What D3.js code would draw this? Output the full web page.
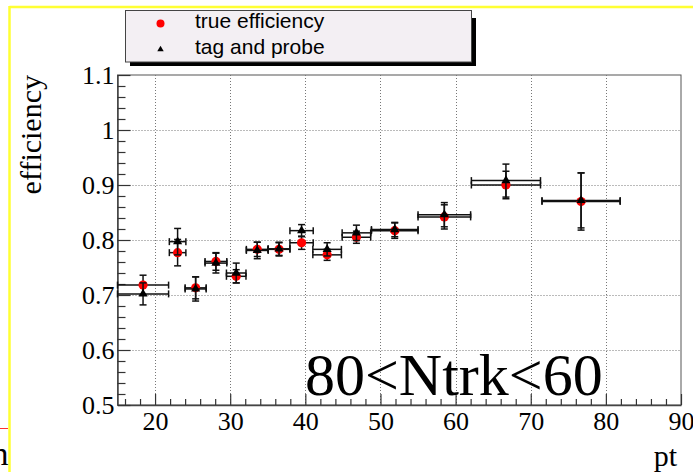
<!DOCTYPE html>
<html>
<head>
<meta charset="utf-8">
<script src="https://cdn.jsdelivr.net/npm/d3@7"></script>
<style>
  html, body { margin: 0; padding: 0; background: #fff; }
  svg { display: block; }
</style>
</head>
<body>
<svg id="chart" width="693" height="472"></svg>
<script>
// transverse momentum bins: centre and half width
const pt    = [18.4, 23.0, 25.4, 28.1, 30.8, 33.6, 36.5, 39.5, 42.9, 46.8, 51.9, 58.5, 66.7, 76.7];
const ptErr = [3.4, 1.1, 1.4, 1.45, 1.3, 1.45, 1.45, 1.55, 1.9, 1.9, 3.1, 3.5, 4.6, 5.2];

// efficiency from truth matching
const trueEff = [0.718, 0.777, 0.713, 0.761, 0.734, 0.783, 0.783, 0.795, 0.773, 0.805, 0.817, 0.842, 0.900, 0.870];
const trueErr = [0.018, 0.024, 0.020, 0.016, 0.012, 0.013, 0.012, 0.012, 0.010, 0.011, 0.014, 0.022, 0.025, 0.052];

// efficiency from tag and probe
const tagEff = [0.702, 0.797, 0.711, 0.758, 0.740, 0.781, 0.784, 0.817, 0.783, 0.813, 0.819, 0.846, 0.908, 0.872];
const tagErr = [0.020, 0.024, 0.022, 0.018, 0.018, 0.015, 0.012, 0.011, 0.012, 0.014, 0.013, 0.022, 0.030, 0.050];

// axis ticks and labels
const xTicks = [20, 30, 40, 50, 60, 70, 80, 90];
const xTickLabels = ["20", "30", "40", "50", "60", "70", "80", "90"];
const yTicks = [0.5, 0.6, 0.7, 0.8, 0.9, 1.0, 1.1];
const yTickLabels = ["0.5", "0.6", "0.7", "0.8", "0.9", "1", "1.1"];
const xGrid = [20, 30, 40, 50, 60, 70, 80];
const yGrid = [0.6, 0.7, 0.8, 0.9, 1.0];

const legendLabels = ["true efficiency", "tag and probe"];
const panelLabel = "80<Ntrk<60";

const svg = d3.select("#chart");
const serif = "'Liberation Serif', 'Times New Roman', serif";
const sans = "'Liberation Sans', Arial, sans-serif";

const x = d3.scaleLinear().domain([15, 90]).range([117.5, 681]);
const y = d3.scaleLinear().domain([0.5, 1.1]).range([405, 75]);

// canvas frame (top and left edges)
svg.append("line").attr("x1", 9.5).attr("x2", 693).attr("y1", 7).attr("y2", 7)
  .attr("stroke", "#ffff33").attr("stroke-width", 2.5);
svg.append("line").attr("x1", 9.5).attr("x2", 9.5).attr("y1", 6).attr("y2", 472)
  .attr("stroke", "#ffff33").attr("stroke-width", 2.5);
svg.append("line").attr("x1", 0).attr("x2", 8).attr("y1", 428.5).attr("y2", 428.5)
  .attr("stroke", "#ff3030").attr("stroke-width", 1);
svg.append("text").attr("x", 8.5).attr("y", 465).attr("text-anchor", "end")
  .attr("font-family", serif).attr("font-size", 34).attr("fill", "#000").text("n");

// plot frame
svg.append("rect")
  .attr("x", x(15)).attr("y", y(1.1))
  .attr("width", x(90) - x(15)).attr("height", y(0.5) - y(1.1))
  .attr("fill", "#fff").attr("stroke", "#555").attr("stroke-width", 1);

// dotted grid
const grid = svg.append("g").attr("stroke", "#777").attr("stroke-width", 1)
  .attr("stroke-dasharray", "1,2");
grid.selectAll("line.gx").data(xGrid).join("line").attr("class", "gx")
  .attr("x1", d => Math.round(x(d)) + 0.5).attr("x2", d => Math.round(x(d)) + 0.5)
  .attr("y1", y(1.1)).attr("y2", y(0.5));
grid.selectAll("line.gy").data(yGrid).join("line").attr("class", "gy")
  .attr("y1", d => Math.round(y(d)) + 0.5).attr("y2", d => Math.round(y(d)) + 0.5)
  .attr("x1", x(15)).attr("x2", x(90));

// axes: ticks point into the plot
const xMinor = d3.range(16, 90, 2).filter(v => v % 10 !== 0);
const yMinor = d3.range(0.52, 1.1, 0.02).filter(v => Math.abs(v * 10 - Math.round(v * 10)) > 1e-6);

const xAxis = svg.append("g").attr("transform", `translate(0,${y(0.5)})`)
  .call(d3.axisBottom(x).tickValues(xTicks).tickSizeInner(-11).tickSizeOuter(0)
    .tickFormat((d, i) => xTickLabels[i]));
xAxis.call(g => g.selectAll("text").attr("y", 7).attr("dy", "0.71em"));
svg.append("g").attr("transform", `translate(0,${y(0.5)})`)
  .call(d3.axisBottom(x).tickValues(xMinor).tickSizeInner(-6).tickSizeOuter(0).tickFormat(""))
  .call(g => g.select(".domain").remove());

const yAxis = svg.append("g").attr("transform", `translate(${x(15)},0)`)
  .call(d3.axisLeft(y).tickValues(yTicks).tickSizeInner(-13).tickSizeOuter(0)
    .tickFormat((d, i) => yTickLabels[i]));
yAxis.call(g => g.selectAll("text").attr("x", -3).attr("dy", "0.34em"));
svg.append("g").attr("transform", `translate(${x(15)},0)`)
  .call(d3.axisLeft(y).tickValues(yMinor).tickSizeInner(-8).tickSizeOuter(0).tickFormat(""))
  .call(g => g.select(".domain").remove());

svg.selectAll(".tick line").attr("stroke", "#333").attr("stroke-width", 1.2);
svg.selectAll(".domain").attr("stroke", "#444").attr("stroke-width", 1.5);
svg.selectAll(".tick text").attr("font-family", serif).attr("font-size", 26).attr("fill", "#000");

// axis titles
svg.append("text").attr("transform", "translate(40.5,75) rotate(-90)")
  .attr("text-anchor", "end").attr("font-family", serif).attr("font-size", 30)
  .attr("fill", "#000").text("efficiency");
svg.append("text").attr("x", 677).attr("y", 466).attr("text-anchor", "end")
  .attr("font-family", serif).attr("font-size", 30).attr("fill", "#000").text("pt");

// error bars with end caps
function drawErrors(eff, err) {
  const g = svg.append("g").attr("stroke", "#111").attr("stroke-width", 1.5).attr("fill", "none");
  pt.forEach((p, i) => {
    const cx = x(p), cy = y(eff[i]);
    const xl = x(p - ptErr[i]), xr = x(p + ptErr[i]);
    const yt = y(eff[i] + err[i]), yb = y(eff[i] - err[i]);
    g.append("line").attr("x1", xl).attr("x2", xr).attr("y1", cy).attr("y2", cy);
    g.append("line").attr("x1", xl).attr("x2", xl).attr("y1", cy - 3.5).attr("y2", cy + 3.5);
    g.append("line").attr("x1", xr).attr("x2", xr).attr("y1", cy - 3.5).attr("y2", cy + 3.5);
    g.append("line").attr("x1", cx).attr("x2", cx).attr("y1", yt).attr("y2", yb);
    g.append("line").attr("x1", cx - 3.5).attr("x2", cx + 3.5).attr("y1", yt).attr("y2", yt);
    g.append("line").attr("x1", cx - 3.5).attr("x2", cx + 3.5).attr("y1", yb).attr("y2", yb);
  });
}

const tri = d3.symbol().type(d3.symbolTriangle);

drawErrors(trueEff, trueErr);
svg.append("g").selectAll("circle").data(trueEff).join("circle")
  .attr("cx", (d, i) => x(pt[i])).attr("cy", d => y(d)).attr("r", 4.6).attr("fill", "#ff0000");

drawErrors(tagEff, tagErr);
svg.append("g").selectAll("path").data(tagEff).join("path")
  .attr("transform", (d, i) => `translate(${x(pt[i])},${y(d)})`)
  .attr("d", tri.size(36)()).attr("fill", "#000");

// panel label
svg.append("text").attr("x", 305).attr("y", 395)
  .attr("font-family", serif).attr("font-size", 60).attr("fill", "#000").text(panelLabel);

// legend box with drop shadow
const lg = svg.append("g");
lg.append("rect").attr("x", 130).attr("y", 18).attr("width", 346).attr("height", 48).attr("fill", "#000");
lg.append("rect").attr("x", 125.5).attr("y", 10.5).attr("width", 346).attr("height", 51.5)
  .attr("fill", "#f3eff3").attr("stroke", "#444").attr("stroke-width", 1);
lg.append("circle").attr("cx", 160.5).attr("cy", 23.5).attr("r", 4).attr("fill", "#ff0000");
lg.append("path").attr("transform", "translate(160.5,49.5)").attr("d", tri.size(18)()).attr("fill", "#000");
lg.selectAll("text").data(legendLabels).join("text")
  .attr("x", 195).attr("y", (d, i) => 28 + i * 25.5)
  .attr("font-family", sans).attr("font-size", 21).attr("fill", "#000").text(d => d);
</script>
</body>
</html>
